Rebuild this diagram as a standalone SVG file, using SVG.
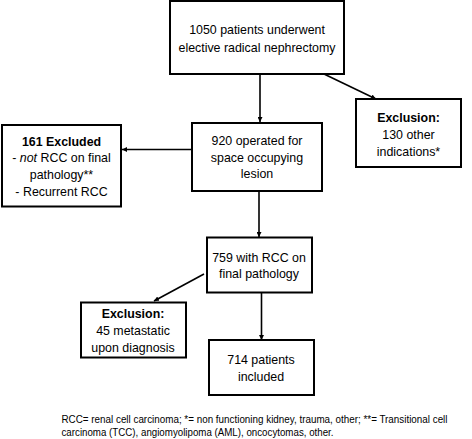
<svg xmlns="http://www.w3.org/2000/svg" width="472" height="439" viewBox="0 0 472 439">
<style>
.box{fill:#fff;stroke:#000;stroke-width:2}
.t{font-family:"Liberation Sans",Arial,sans-serif;font-size:12.4px;fill:#000;text-anchor:middle}
.b{font-weight:bold}
.c{stroke:#000;stroke-width:1.6;fill:none;marker-end:url(#ah)}
.f{font-family:"Liberation Sans",Arial,sans-serif;font-size:10px;fill:#000}
</style>
<defs>
<marker id="ah" viewBox="0 0 10 10" refX="10" refY="5" markerWidth="5" markerHeight="5" orient="auto" markerUnits="userSpaceOnUse">
<path d="M0,0 L10,5 L0,10 z" fill="#000"/>
</marker>
</defs>
<rect width="472" height="439" fill="#fff"/>
<g id="connectors">
<line class="c" x1="260" y1="74" x2="260" y2="122"/>
<line class="c" x1="324" y1="74" x2="376" y2="99"/>
<line class="c" x1="192" y1="149.5" x2="122" y2="149.5"/>
<line class="c" x1="259" y1="191" x2="259" y2="237"/>
<line class="c" x1="204" y1="274" x2="154" y2="301"/>
<line class="c" x1="261.5" y1="292" x2="261.5" y2="340"/>
</g>
<g id="n1">
<rect class="box" x="170" y="1" width="174" height="73"/>
<text class="t" x="257" y="34">1050 patients underwent</text>
<text class="t" x="257" y="51.5">elective radical nephrectomy</text>
</g>
<g id="n2">
<rect class="box" x="192" y="123" width="130" height="68"/>
<text class="t" x="257" y="145">920 operated for</text>
<text class="t" x="257" y="161.5">space occupying</text>
<text class="t" x="257" y="178">lesion</text>
</g>
<g id="n3">
<rect class="box" x="356" y="99" width="105" height="68"/>
<text class="t b" x="408.5" y="122">Exclusion:</text>
<text class="t" x="408.5" y="139">130 other</text>
<text class="t" x="408.5" y="155.5">indications*</text>
</g>
<g id="n4">
<rect class="box" x="2" y="125" width="119" height="81.5"/>
<text class="t b" x="61.5" y="145.5">161 Excluded</text>
<text class="t" x="61.5" y="161.5">- <tspan font-style="italic">not</tspan> RCC on final</text>
<text class="t" x="61.5" y="179">pathology**</text>
<text class="t" x="61.5" y="195.5">- Recurrent RCC</text>
</g>
<g id="n5">
<rect class="box" x="207" y="237.5" width="105" height="55"/>
<text class="t" x="259" y="261.5">759 with RCC on</text>
<text class="t" x="259" y="278">final pathology</text>
</g>
<g id="n6">
<rect class="box" x="81" y="302.5" width="105" height="55"/>
<text class="t b" x="133" y="318">Exclusion:</text>
<text class="t" x="133" y="335">45 metastatic</text>
<text class="t" x="133" y="351.5">upon diagnosis</text>
</g>
<g id="n7">
<rect class="box" x="209" y="340" width="105" height="55"/>
<text class="t" x="261" y="364">714 patients</text>
<text class="t" x="261" y="380.5">included</text>
</g>
<g id="footer">
<text class="f" x="61.5" y="422.5" textLength="386" lengthAdjust="spacingAndGlyphs">RCC= renal cell carcinoma; *= non functioning kidney, trauma, other; **= Transitional cell</text>
<text class="f" x="61.5" y="436" textLength="272" lengthAdjust="spacingAndGlyphs">carcinoma (TCC), angiomyolipoma (AML), oncocytomas, other.</text>
</g>
</svg>
